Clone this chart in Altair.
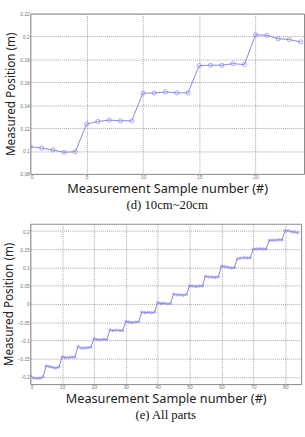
import altair as alt
import pandas as pd

# (d) 10cm~20cm
top_samples = list(range(25))
top_values = [0.1037, 0.1026, 0.1009, 0.0989, 0.0994,
              0.1236, 0.1258, 0.1270, 0.1264, 0.1264,
              0.1506, 0.1506, 0.1516, 0.1508, 0.1508,
              0.1746, 0.1749, 0.1749, 0.1763, 0.1755,
              0.2015, 0.2010, 0.1981, 0.1973, 0.1953]

# (e) All parts
all_samples = list(range(85))
all_values = [-0.197, -0.203, -0.204, -0.204, -0.200,
              -0.170, -0.172, -0.174, -0.176, -0.173,
              -0.145, -0.147, -0.147, -0.146, -0.146,
              -0.117, -0.121, -0.121, -0.120, -0.119,
              -0.095, -0.098, -0.098, -0.097, -0.098,
              -0.071, -0.073, -0.072, -0.073, -0.073,
              -0.048, -0.050, -0.051, -0.050, -0.049,
              -0.022, -0.024, -0.023, -0.024, -0.023,
              0.004, 0.001, 0.002, 0.000, 0.001,
              0.027, 0.025, 0.025, 0.024, 0.026,
              0.050, 0.049, 0.048, 0.049, 0.049,
              0.076, 0.074, 0.074, 0.073, 0.074] + top_values

top_xticks = [0, 5, 10, 15, 20]
top_yticks = [0.08, 0.10, 0.12, 0.14, 0.16, 0.18, 0.20, 0.22]
all_xticks = [0, 10, 20, 30, 40, 50, 60, 70, 80]
all_yticks = [-0.2, -0.15, -0.1, -0.05, 0, 0.05, 0.1, 0.15, 0.2]

XTITLE = "Measurement Sample number (#)"
YTITLE = "Measured Position (m)"
COLOR = "#8585ec"
SANS = "Noto Sans"
SERIF = "Liberation Serif"


def axis(vals, title, fmt, tpad, tsize):
    return alt.Axis(values=vals, title=title, format=fmt, grid=True,
                    gridDash=[1, 1], gridColor="#999999", gridOpacity=0.9,
                    ticks=False, domain=False, labelFontSize=5,
                    labelColor="#777777", labelPadding=1,
                    titleFont=SANS, titleFontSize=tsize, titleFontWeight="normal",
                    titleColor="#222222", titlePadding=tpad)


def panel(xs, ys, xdom, ydom, xt, yt, caption, w, h, psize):
    df = pd.DataFrame({"x": xs, "y": ys})
    base = alt.Chart(df).encode(
        x=alt.X("x:Q", scale=alt.Scale(domain=xdom, nice=False, zero=False),
                axis=axis(xt, XTITLE, "d", 3, 13)),
        y=alt.Y("y:Q", scale=alt.Scale(domain=ydom, nice=False, zero=False),
                axis=axis(yt, YTITLE, "~g", 2, 12)),
    )
    line = base.mark_line(color=COLOR, strokeWidth=1, clip=True)
    pts = base.mark_point(color=COLOR, filled=False, size=psize, strokeWidth=1, clip=True)
    return (line + pts).properties(
        width=w, height=h,
        title=alt.TitleParams(caption, orient="bottom", font=SERIF, fontSize=13,
                              fontWeight="normal", color="#111111", offset=4,
                              anchor="middle"),
    )


c1 = panel(top_samples, top_values, [0, 24.3], [0.08, 0.22], top_xticks, top_yticks,
           "(d) 10cm~20cm", 280, 164, 18)
c2 = panel(all_samples, all_values, [0, 85], [-0.22, 0.22], all_xticks, all_yticks,
           "(e) All parts", 277, 164, 6)

chart = alt.vconcat(c1, c2, spacing=10).properties(
    padding={"left": 1, "top": 6, "right": 0, "bottom": 0}
).configure_view(stroke="#888888", strokeWidth=1)

chart.save("out.html", embed_options={"renderer": "svg", "actions": False})
